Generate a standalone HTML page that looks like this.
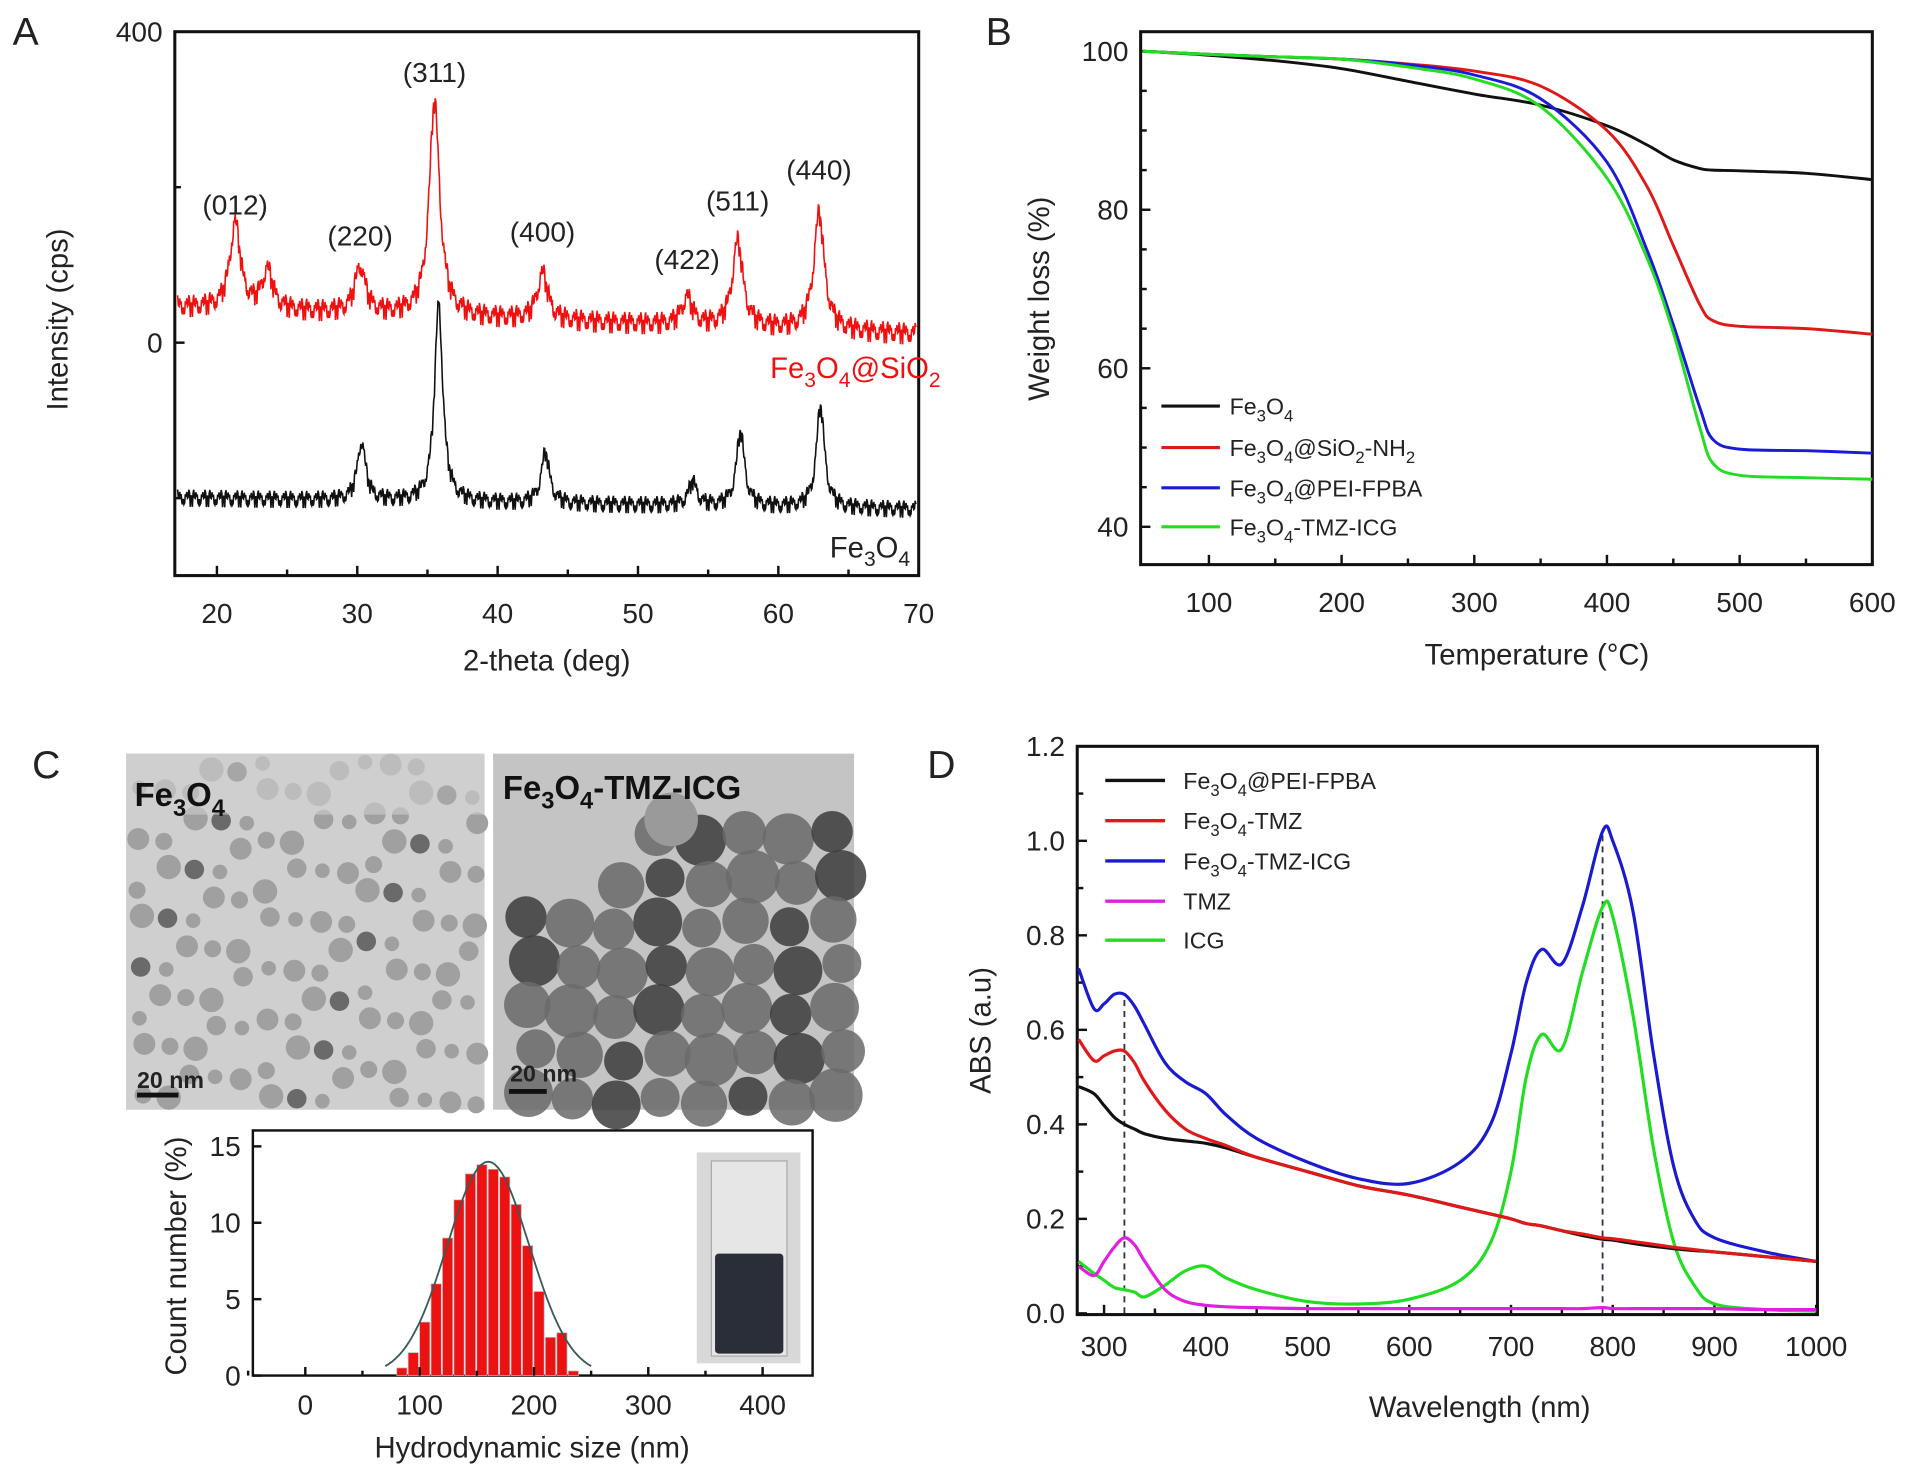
<!DOCTYPE html>
<html><head><meta charset="utf-8"><style>
html,body{margin:0;padding:0;background:#fff}
svg{display:block}
text{font-family:"Liberation Sans",Arial,sans-serif}
</style></head><body>
<svg id="fig" width="1913" height="1478" viewBox="0 0 1568 1212" fill="#222" xmlns="http://www.w3.org/2000/svg">
<g id="pA"></g>
<g id="pB"></g>
<g id="pC"></g>
<g id="pD"></g>
</svg>
<script>
// ---------- Panel A data ----------
const xrdRedPeakPos = [21.3, 23.6, 30.2, 35.5, 43.2, 53.5, 57.1, 62.9];
const xrdRedPeakHt  = [110, 50, 60, 275, 60, 35, 110, 150];
const xrdRedBase    = [45, 10];
const xrdBlackPeakPos = [30.3, 35.8, 43.4, 53.9, 57.3, 63.0];
const xrdBlackPeakHt  = [75, 255, 65, 30, 95, 130];
const xrdBlackBase    = [-200, -215];
const xrdLabels = ["(012)","(220)","(311)","(400)","(422)","(511)","(440)"];
const xrdLabelX = [21.3, 30.2, 35.5, 43.2, 53.5, 57.1, 62.9];
const xrdLabelY = [165, 125, 335, 130, 95, 170, 210];
// ---------- Panel B data ----------
const tgaTemp = [50,100,150,200,250,300,350,400,430,450,470,480,500,550,600];
const tgaFe3O4 = [100,99.5,98.8,97.8,96.2,94.6,93.2,90.6,88.2,86.3,85.2,85.0,84.9,84.6,83.8];
const tgaSiO2  = [100,99.6,99.3,99.0,98.4,97.5,95.6,90.0,83.0,75.5,68,66,65.3,65.0,64.3];
const tgaPEI   = [100,99.6,99.3,99.0,98.3,97.0,94.0,86.0,75.0,65.5,55,51,49.8,49.6,49.3];
const tgaTMZICG= [100,99.6,99.3,99.0,98.0,96.5,93.0,84.0,74.0,64.5,52.5,48,46.5,46.2,46.0];
// ---------- Panel C data ----------
const dlsBinStart = [80,90,100,110,120,130,140,150,160,170,180,190,200,210,220,230];
const dlsCount    = [0.5,1.5,3.5,6.0,9.0,11.5,13.2,13.8,13.5,13.0,11.2,8.5,5.5,2.5,2.8,0.3];
const dlsFit = [160, 36, 14]; // mean, sigma, peak
// ---------- Panel D data ----------
const wl = [275,290,300,310,320,330,340,360,380,400,420,450,500,550,600,650,680,700,715,730,750,770,790,800,820,840,860,880,900,950,1000];
const absPEI = [0.48,0.465,0.44,0.415,0.40,0.39,0.38,0.37,0.365,0.36,0.35,0.33,0.30,0.27,0.25,0.225,0.21,0.20,0.19,0.185,0.175,0.165,0.157,0.155,0.148,0.142,0.137,0.133,0.13,0.12,0.11];
const absTMZ1 = [0.58,0.535,0.545,0.555,0.555,0.53,0.49,0.43,0.39,0.37,0.355,0.33,0.30,0.27,0.25,0.225,0.21,0.20,0.19,0.185,0.175,0.168,0.16,0.158,0.152,0.146,0.14,0.135,0.13,0.12,0.11];
const absTMZICG = [0.73,0.645,0.655,0.675,0.675,0.65,0.61,0.53,0.49,0.465,0.42,0.37,0.32,0.285,0.275,0.32,0.40,0.55,0.70,0.77,0.74,0.86,1.02,1.0,0.85,0.55,0.31,0.20,0.16,0.13,0.11];
const absTMZ = [0.10,0.08,0.11,0.14,0.16,0.145,0.11,0.05,0.025,0.017,0.014,0.012,0.01,0.01,0.01,0.01,0.01,0.01,0.01,0.01,0.01,0.01,0.012,0.01,0.01,0.01,0.01,0.01,0.01,0.008,0.008];
const absICG = [0.11,0.085,0.07,0.055,0.05,0.045,0.035,0.06,0.09,0.10,0.075,0.05,0.025,0.02,0.03,0.07,0.15,0.30,0.50,0.59,0.56,0.72,0.86,0.84,0.63,0.35,0.15,0.06,0.02,0.008,0.005];
const uvDashX = [320, 790];
const uvDashTop = [0.67, 1.02];

const NS="http://www.w3.org/2000/svg";
function mk(parent,tag,attrs,txt){const e=document.createElementNS(NS,tag);for(const k in attrs)e.setAttribute(k,attrs[k]);if(txt!==undefined)e.textContent=txt;parent.appendChild(e);return e;}
function smooth(pts){let d="M"+pts[0][0].toFixed(1)+","+pts[0][1].toFixed(1);for(let i=0;i<pts.length-1;i++){const p0=pts[Math.max(0,i-1)],p1=pts[i],p2=pts[i+1],p3=pts[Math.min(pts.length-1,i+2)];const c1=[p1[0]+(p2[0]-p0[0])/6,p1[1]+(p2[1]-p0[1])/6],c2=[p2[0]-(p3[0]-p1[0])/6,p2[1]-(p3[1]-p1[1])/6];d+="C"+c1[0].toFixed(1)+","+c1[1].toFixed(1)+" "+c2[0].toFixed(1)+","+c2[1].toFixed(1)+" "+p2[0].toFixed(1)+","+p2[1].toFixed(1);}return d;}
function subText(parent,x,y,parts,size,fill,anchor,name){
  const t=mk(parent,"text",{x:x,y:y,"font-size":size,fill:fill||"#222","text-anchor":anchor||"start"});
  
  
  let sub=false;
  parts.forEach(p=>{const isSub=p.startsWith("_");const s=mk(t,"tspan",{},isSub?p.slice(1):p);
    if(isSub&&!sub){s.setAttribute("dy",size*0.3);s.setAttribute("font-size",size*0.72);sub=true;}
    else if(isSub){s.setAttribute("font-size",size*0.72);}
    else if(!isSub&&sub){s.setAttribute("dy",-size*0.3);sub=false;}});
  return t;
}
const FS=23;

// ================= Panel A =================
(function(){
  const g=document.getElementById("pA");
  const L=143,R=753,T=26,B=472;
  const X=v=>L+(v-17)*(R-L)/53, Y=v=>281-v*255/400;
  const lab=mk(g,"text",{x:10,y:37,"font-size":32},"A");
  const box=mk(g,"rect",{x:L,y:T,width:R-L,height:B-T,fill:"none",stroke:"#111","stroke-width":2.5});
  [20,30,40,50,60,70].forEach(v=>{mk(g,"line",{x1:X(v),x2:X(v),y1:B,y2:B-8,stroke:"#111","stroke-width":2});const t=mk(g,"text",{x:X(v),y:B+39,"font-size":FS,"text-anchor":"middle"},v);});
  [25,35,45,55,65].forEach(v=>mk(g,"line",{x1:X(v),x2:X(v),y1:B,y2:B-5,stroke:"#111","stroke-width":2}));
  [400,200,0,-200].forEach(v=>mk(g,"line",{x1:L,x2:L+(v%400===0?8:5),y1:Y(v),y2:Y(v),stroke:"#111","stroke-width":2}));
  [400,0].forEach(v=>{const t=mk(g,"text",{x:L-10,y:Y(v)+8,"font-size":FS,"text-anchor":"end"},v);});
  const xt=mk(g,"text",{x:448,y:550,"font-size":24,"text-anchor":"middle"},"2-theta (deg)");
  const yt=mk(g,"text",{x:0,y:0,"font-size":24,"text-anchor":"middle",transform:"translate(55,262) rotate(-90)"},"Intensity (cps)");
  function series(pos,ht,base,w){const pts=[];for(let x=17.2;x<=69.8;x+=0.05){let y=base[0]+(base[1]-base[0])*(x-17)/53;for(let i=0;i<pos.length;i++){const d=(x-pos[i])/w;y+=ht[i]/(1+d*d);}pts.push([X(x),Y(y)]);}return pts;}
  function draw(pts,col,name,jit){let d="M"+pts.map((p,i)=>p[0].toFixed(1)+","+(p[1]+jit*(((i*i*7+i*3)%23)-11)/11).toFixed(1)).join("L");const p=mk(g,"path",{d:d,fill:"none",stroke:col,"stroke-width":1.3});}
  draw(series(xrdRedPeakPos,xrdRedPeakHt,xrdRedBase,0.45),"#f01010","line-fe3o4-sio2",9);
  draw(series(xrdBlackPeakPos,xrdBlackPeakHt,xrdBlackBase,0.35),"#111","line-fe3o4",7);
  xrdLabels.forEach((s,i)=>{const t=mk(g,"text",{x:X(xrdLabelX[i]),y:Y(xrdLabelY[i]),"font-size":FS,"text-anchor":"middle"},s);});
  subText(g,771,310,["Fe","_3","O","_4","@SiO","_2"],24,"#f01010","end","label-fe3o4-sio2");
  subText(g,746,457,["Fe","_3","O","_4"],24,"#222","end","label-fe3o4");
})();

// ================= Panel B =================
(function(){
  const g=document.getElementById("pB");
  const L=935,R=1535,T=26,B=463;
  const X=v=>991+(v-100)*1.088, Y=v=>42+(100-v)*6.5;
  const lab=mk(g,"text",{x:808,y:37,"font-size":32},"B");
  const box=mk(g,"rect",{x:L,y:T,width:R-L,height:B-T,fill:"none",stroke:"#111","stroke-width":2.5});
  [100,200,300,400,500,600].forEach(v=>{mk(g,"line",{x1:X(v),x2:X(v),y1:B,y2:B-8,stroke:"#111","stroke-width":2});const t=mk(g,"text",{x:X(v),y:B+39,"font-size":FS,"text-anchor":"middle"},v);});
  [150,250,350,450,550].forEach(v=>mk(g,"line",{x1:X(v),x2:X(v),y1:B,y2:B-5,stroke:"#111","stroke-width":2}));
  for(let v=40;v<=100;v+=5)mk(g,"line",{x1:L,x2:L+(v%20===0?8:5),y1:Y(v),y2:Y(v),stroke:"#111","stroke-width":2});
  [40,60,80,100].forEach(v=>{const t=mk(g,"text",{x:L-10,y:Y(v)+8,"font-size":FS,"text-anchor":"end"},v);});
  const xt=mk(g,"text",{x:1260,y:545,"font-size":24,"text-anchor":"middle"},"Temperature (°C)");
  const yt=mk(g,"text",{x:0,y:0,"font-size":24,"text-anchor":"middle",transform:"translate(860,245) rotate(-90)"},"Weight loss (%)");
  const ser=[[tgaFe3O4,"#111","line-fe3o4"],[tgaSiO2,"#e01818","line-fe3o4-sio2-nh2"],[tgaPEI,"#1a1ad8","line-fe3o4-pei-fpba"],[tgaTMZICG,"#22dd22","line-fe3o4-tmz-icg"]];
  ser.forEach(s=>{const p=mk(g,"path",{d:smooth(tgaTemp.map((t,i)=>[X(t),Y(s[0][i])])),fill:"none",stroke:s[1],"stroke-width":2.4});});
  const legT=[["Fe","_3","O","_4"],["Fe","_3","O","_4","@SiO","_2","-NH","_2"],["Fe","_3","O","_4","@PEI-FPBA"],["Fe","_3","O","_4","-TMZ-ICG"]];
  const legY=[333,367,400,432];
  ser.forEach((s,i)=>{const l=mk(g,"line",{x1:952,x2:1000,y1:legY[i],y2:legY[i],stroke:s[1],"stroke-width":2.5});subText(g,1008,legY[i]+7,legT[i],19,"#222","start","legend-entry");});
})();

// ================= Panel C =================
(function(){
  const g=document.getElementById("pC");
  const lab=mk(g,"text",{x:26,y:638,"font-size":32},"C");
  const im1=mk(g,"rect",{x:103,y:618,width:294,height:292,fill:"#cfcfcf"});
  const im2=mk(g,"rect",{x:404,y:618,width:296,height:292,fill:"#c4c4c4"});
  for(let i=0;i<14;i++)for(let j=0;j<14;j++){const k=(i*37+j*61)%17;if(k<7)continue;const cx=110+i*21+((j*13)%9),cy=625+j*21+((i*11)%9);mk(g,"circle",{cx:cx,cy:cy,r:6+(k%5),fill:k%6===0?"#6a6a6a":"#a0a0a0"});}
  for(let i=0;i<8;i++)for(let j=0;j<7;j++){const k=(i*29+j*43)%13;const cx=430+i*36+((j*7)%13),cy=680+j*36+((i*5)%11);if((i+j)<3&&j<2)continue;mk(g,"circle",{cx:cx,cy:cy,r:16+(k%7),fill:k%4===0?"#3c3c3c":"#6a6a6a",opacity:0.85});}
  mk(g,"circle",{cx:550,cy:672,r:22,fill:"#9a9a9a"});
  mk(g,"rect",{x:103,y:618,width:294,height:50,fill:"#cfcfcf",opacity:0.6});
  subText(g,110,661,["Fe","_3","O","_4"],27,"#111","start","tem-label-fe3o4").setAttribute("font-weight","bold");
  subText(g,412,655,["Fe","_3","O","_4","-TMZ-ICG"],27,"#111","start","tem-label-fe3o4-tmz-icg").setAttribute("font-weight","bold");
  mk(g,"line",{x1:112,x2:146,y1:898,y2:898,stroke:"#111","stroke-width":4});
  mk(g,"text",{x:112,y:892,"font-size":19,"font-weight":"bold"},"20 nm");
  mk(g,"line",{x1:417,x2:448,y1:895,y2:895,stroke:"#111","stroke-width":4});
  mk(g,"text",{x:418,y:887,"font-size":19,"font-weight":"bold"},"20 nm");
  const L=207,R=666,T=927,B=1128;
  const X=v=>250+v*0.9375, Y=v=>1128-v*12.53;
  const box=mk(g,"rect",{x:L,y:T,width:R-L,height:B-T,fill:"none",stroke:"#111","stroke-width":2});
  dlsBinStart.forEach((b,i)=>{const r=mk(g,"rect",{x:X(b),y:Y(dlsCount[i]),width:X(b+10)-X(b)-1,height:B-Y(dlsCount[i]),fill:"#ee1111",stroke:"#bbb","stroke-width":0.6});});
  const fp=[];for(let x=70;x<=250;x+=3)fp.push([X(x),Y(dlsFit[2]*Math.exp(-Math.pow((x-dlsFit[0])/dlsFit[1],2)/2))]);
  const f=mk(g,"path",{d:"M"+fp.map(p=>p[0].toFixed(1)+","+p[1].toFixed(1)).join("L"),fill:"none",stroke:"#3a5a5a","stroke-width":1.5});
  [0,100,200,300,400].forEach(v=>{mk(g,"line",{x1:X(v),x2:X(v),y1:B,y2:B-7,stroke:"#111","stroke-width":2});const t=mk(g,"text",{x:X(v),y:B+32,"font-size":FS,"text-anchor":"middle"},v);});
  [-50,50,150,250,350].forEach(v=>mk(g,"line",{x1:X(v),x2:X(v),y1:B,y2:B-4,stroke:"#111","stroke-width":2}));
  [0,5,10,15].forEach(v=>{mk(g,"line",{x1:L,x2:L+7,y1:Y(v),y2:Y(v),stroke:"#111","stroke-width":2});const t=mk(g,"text",{x:L-10,y:Y(v)+8,"font-size":FS,"text-anchor":"end"},v);});
  const xt=mk(g,"text",{x:436,y:1195,"font-size":24,"text-anchor":"middle"},"Hydrodynamic size (nm)");
  const yt=mk(g,"text",{x:0,y:0,"font-size":24,"text-anchor":"middle",transform:"translate(152,1030) rotate(-90)"},"Count number (%)");
  const v=mk(g,"g",{});
  mk(v,"rect",{x:571,y:945,width:85,height:173,fill:"#d8d8d8"});
  mk(v,"rect",{x:583,y:952,width:62,height:160,fill:"#e6e6e6",stroke:"#aaa","stroke-width":1});
  mk(v,"rect",{x:586,y:1028,width:56,height:82,fill:"#2a2e38",rx:3});
})();

// ================= Panel D =================
(function(){
  const g=document.getElementById("pD");
  const L=883,R=1490,T=612,B=1078;
  const X=v=>905+(v-300)*(1489-905)/700, Y=v=>1077-v*387.5;
  const lab=mk(g,"text",{x:760,y:638,"font-size":32},"D");
  const box=mk(g,"rect",{x:L,y:T,width:R-L,height:B-T,fill:"none",stroke:"#111","stroke-width":2.5});
  for(let v=300;v<=1000;v+=50){mk(g,"line",{x1:X(v),x2:X(v),y1:B,y2:B-(v%100===0?8:5),stroke:"#111","stroke-width":2});if(v%100===0){const t=mk(g,"text",{x:X(v),y:B+34,"font-size":FS,"text-anchor":"middle"},v);}}
  for(let i=0;i<=12;i++){const v=i/10;mk(g,"line",{x1:L,x2:L+(i%2===0?8:5),y1:Y(v),y2:Y(v),stroke:"#111","stroke-width":2});if(i%2===0){const t=mk(g,"text",{x:L-10,y:Y(v)+8,"font-size":FS,"text-anchor":"end"},v.toFixed(1));}}
  const xt=mk(g,"text",{x:1213,y:1162,"font-size":24,"text-anchor":"middle"},"Wavelength (nm)");
  const yt=mk(g,"text",{x:0,y:0,"font-size":24,"text-anchor":"middle",transform:"translate(812,845) rotate(-90)"},"ABS (a.u)");
  uvDashX.forEach((x,i)=>{const l=mk(g,"line",{x1:X(x),x2:X(x),y1:Y(0),y2:Y(uvDashTop[i]),stroke:"#334","stroke-width":1.5,"stroke-dasharray":"5,4"});});
  const ser=[[absPEI,"#111","line-fe3o4-pei-fpba"],[absTMZ1,"#e01818","line-fe3o4-tmz"],[absTMZICG,"#1a1ad0","line-fe3o4-tmz-icg"],[absTMZ,"#e020e0","line-tmz"],[absICG,"#22dd22","line-icg"]];
  [ser[4],ser[3],ser[2],ser[0],ser[1]].forEach(s=>{const p=mk(g,"path",{d:smooth(wl.map((w,i)=>[X(w),Y(s[0][i])])),fill:"none",stroke:s[1],"stroke-width":2.6});});
  const legT=[["Fe","_3","O","_4","@PEI-FPBA"],["Fe","_3","O","_4","-TMZ"],["Fe","_3","O","_4","-TMZ-ICG"],["TMZ"],["ICG"]];
  const legY=[640,673,706,739,771];
  ser.forEach((s,i)=>{const l=mk(g,"line",{x1:906,x2:955,y1:legY[i],y2:legY[i],stroke:s[1],"stroke-width":2.8});subText(g,970,legY[i]+7,legT[i],19,"#222","start","legend-entry");});
})();
</script>
</body></html>
